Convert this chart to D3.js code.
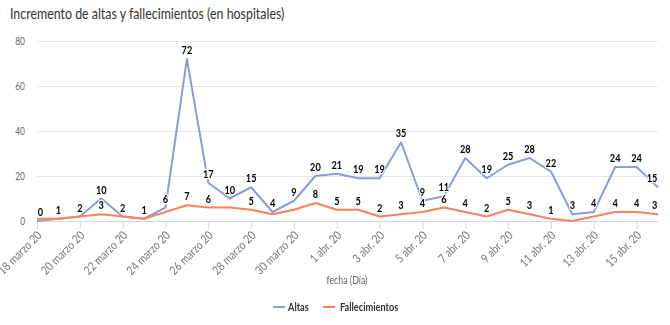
<!DOCTYPE html>
<html>
<head>
<meta charset="utf-8">
<script src="https://cdn.jsdelivr.net/npm/d3@7"></script>
<style>
  html, body { margin: 0; padding: 0; background: #fff; }
  svg { display: block; font-family: Lato, "Open Sans", sans-serif; }
</style>
</head>
<body>
<svg id="chart" width="670" height="325"></svg>
<script>
const title = "Incremento de altas y fallecimientos (en hospitales)";
const startDate = "2020-03-18";
const altas = [0, 1, 2, 10, 2, 1, 6, 72, 17, 10, 15, 4, 9, 20, 21, 19, 19, 35, 9, 11, 28, 19, 25, 28, 22, 3, 4, 24, 24, 15];
const fallecimientos = [1, 1, 2, 3, 2, 1, 4, 7, 6, 6, 5, 3, 5, 8, 5, 5, 2, 3, 4, 6, 4, 2, 5, 3, 1, 0, 2, 4, 4, 3];
const yTicks = [0, 20, 40, 60, 80];
const months = ["enero", "feb.", "marzo", "abr.", "mayo", "jun.", "jul.", "ago.", "sept.", "oct.", "nov.", "dic."];
const seriesNames = ["Altas", "Fallecimientos"];
const seriesColors = ["#8c9dd4", "#fc8059"];
const xTitle = "fecha (Día)";

const SX = 0.8; // horizontal text compression seen in the reference
const parse = d3.timeParse("%Y-%m-%d");
const d0 = parse(startDate);
const dates = altas.map((_, i) => d3.timeDay.offset(d0, i));

const svg = d3.select("#chart");
const L = 37, R = 658, T = 41, B = 221;

const x = d3.scaleTime().domain([dates[0], dates[dates.length - 1]]).range([L, R]);
const y = d3.scaleLinear().domain([0, 80]).range([B, T]);

function txt(g, tx, ty, str, size, opts = {}) {
  const t = g.append("text").attr("transform", `translate(${tx},${ty}) scale(${SX},1)`)
    .attr("font-size", size).text(str);
  Object.entries(opts).forEach(([k, v]) => t.attr(k, v));
  return t;
}

// title
txt(svg, 10, 19, title, 15.5, { fill: "#333" });

// grid
svg.append("g").selectAll("line").data(yTicks.filter(t => t > 0)).join("line")
  .attr("x1", L).attr("x2", R).attr("y1", d => y(d)).attr("y2", d => y(d))
  .attr("stroke", "#e6e6e6").attr("stroke-width", 1).attr("shape-rendering", "crispEdges");

// y axis labels
const yAxis = d3.axisLeft(y).tickValues(yTicks).tickSize(0).tickPadding(0).tickFormat(d3.format("d"));
const gy = svg.append("g").attr("transform", `translate(${L},0)`).call(yAxis);
gy.select(".domain").remove();
gy.selectAll(".tick text").attr("fill", "#666").attr("font-size", 10.5).attr("font-family", "Lato, sans-serif")
  .attr("x", null).attr("dy", null).attr("dominant-baseline", "central")
  .attr("transform", `translate(-12,0) scale(${SX},1)`);

// x axis
const fmt = d => `${d.getDate()} ${months[d.getMonth()]} 20`;
const xTickVals = dates.filter((_, i) => i % 2 === 0);
const xAxis = d3.axisBottom(x).tickValues(xTickVals).tickSize(8).tickFormat(fmt);
const gx = svg.append("g").attr("transform", `translate(0,${B})`).attr("opacity", 0.999).call(xAxis);
gx.select(".domain").attr("stroke", "#ccd6eb").attr("d", `M${L},0.5H${R}`);
gx.selectAll(".tick line").attr("stroke", "#ccd6eb");
gx.selectAll(".tick text")
  .attr("fill", "#777").attr("font-size", 12).attr("font-family", "Lato, sans-serif")
  .attr("text-anchor", "end").attr("dy", null).attr("y", 0)
  .attr("transform", `translate(5,15) rotate(-45) scale(0.84,1)`);

// x title
txt(svg, 347, 284, xTitle, 11, { fill: "#666", "text-anchor": "middle" });

// lines
const series = [altas, fallecimientos];
const line = d3.line().x((d, i) => x(dates[i])).y(d => y(d));
series.forEach((s, k) => {
  svg.append("path").datum(s).attr("d", line).attr("fill", "none")
    .attr("stroke", seriesColors[k]).attr("stroke-width", 2).attr("stroke-linejoin", "round");
});

// data labels
const lbl = svg.append("g").attr("font-weight", "bold").attr("text-anchor", "middle");
function addLabel(v, i) {
  let cx = x(dates[i]);
  const w = (String(v).length * 6.5 + 2) * SX;
  cx = Math.max(L + w / 2, Math.min(R - w / 2, cx));
  txt(lbl, cx, y(v) - 5, v, 11.5, {
    stroke: "#fff", "stroke-width": 2.5, "stroke-linejoin": "round",
    "paint-order": "stroke", fill: "#000"
  });
}
altas.forEach((v, i) => addLabel(v, i));
fallecimientos.forEach((v, i) => {
  if ((altas[i] - v) * (B - T) / 80 >= 10) addLabel(v, i);
});

// legend
const legend = [{ x: 273, tx: 288 }, { x: 323, tx: 340 }];
legend.forEach((p, k) => {
  svg.append("line").attr("x1", p.x).attr("x2", p.x + 12).attr("y1", 307).attr("y2", 307)
    .attr("stroke", seriesColors[k]).attr("stroke-width", 2);
  txt(svg, p.tx, 311, seriesNames[k], 11.5, { "font-weight": "bold", fill: "#333" });
});
</script>
</body>
</html>
